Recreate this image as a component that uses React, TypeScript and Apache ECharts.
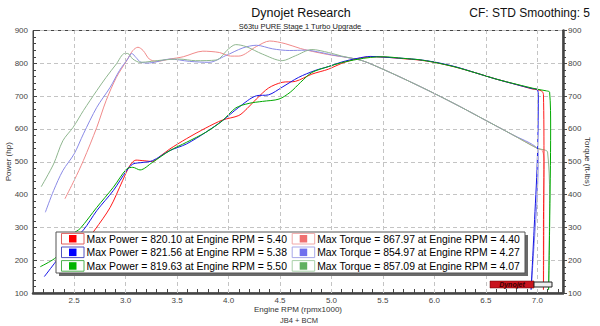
import React, { useEffect, useRef } from 'react';
import * as echarts from 'echarts';

// ---- data (rpm x1000, value) ----
const rpmGridLines = [2.5, 3.0, 3.5, 4.0, 4.5, 5.0, 5.5, 6.0, 6.5, 7.0];

const powerRun1: [number, number][] = [
  [2.41, 178], [2.5, 211], [2.59, 248], [2.7, 292], [2.85, 361], [2.97, 442], [3.04, 488], [3.1, 505],
  [3.18, 503], [3.26, 501], [3.34, 518], [3.43, 539], [3.59, 570], [3.78, 603], [3.94, 627], [4.1, 641],
  [4.18, 662], [4.27, 691], [4.39, 725], [4.52, 742], [4.65, 745], [4.81, 767], [4.97, 782], [5.1, 800],
  [5.25, 814], [5.4, 820], [5.55, 818], [5.7, 814], [5.85, 810], [6.0, 803], [6.2, 789], [6.4, 771],
  [6.6, 752], [6.8, 735], [6.95, 722], [7.04, 716], [7.06, 705], [7.065, 500], [7.06, 300], [7.06, 110],
];
const powerRun2: [number, number][] = [
  [2.21, 150], [2.32, 195], [2.45, 250], [2.59, 292], [2.72, 351], [2.88, 412], [3.01, 473], [3.07, 493],
  [3.17, 498], [3.26, 503], [3.43, 534], [3.59, 554], [3.78, 590], [3.94, 625], [4.1, 666], [4.27, 701],
  [4.39, 704], [4.52, 727], [4.68, 757], [4.84, 778], [4.97, 790], [5.1, 804], [5.25, 815], [5.38, 821],
  [5.5, 819], [5.7, 815], [5.85, 811], [6.0, 804], [6.2, 790], [6.4, 771], [6.6, 752], [6.8, 735],
  [6.95, 723], [7.0, 720], [7.01, 700], [7.0, 500], [6.97, 300], [6.94, 110],
];
const powerRun3: [number, number][] = [
  [2.17, 180], [2.31, 205], [2.42, 240], [2.49, 280], [2.56, 297], [2.72, 361], [2.88, 422], [3.01, 478],
  [3.07, 483], [3.14, 475], [3.26, 498], [3.43, 534], [3.59, 559], [3.78, 590], [3.94, 625], [4.07, 664],
  [4.2, 678], [4.33, 684], [4.49, 691], [4.6, 712], [4.7, 742], [4.81, 772], [4.97, 790], [5.1, 802],
  [5.25, 812], [5.38, 818], [5.5, 820], [5.7, 815], [5.85, 811], [6.0, 803], [6.2, 789], [6.4, 771],
  [6.6, 752], [6.8, 736], [7.0, 721], [7.09, 716], [7.12, 712], [7.13, 600], [7.12, 300], [7.11, 110],
];

const torqueRun1: [number, number][] = [
  [2.41, 387], [2.5, 443], [2.59, 504], [2.72, 605], [2.81, 686], [2.91, 757], [3.01, 808], [3.07, 839],
  [3.12, 849], [3.17, 839], [3.23, 813], [3.3, 806], [3.43, 813], [3.56, 820], [3.75, 837], [3.91, 833],
  [4.02, 822], [4.1, 822], [4.27, 851], [4.4, 868], [4.55, 860], [4.7, 845], [4.85, 834], [5.0, 825],
  [5.15, 818], [5.3, 808], [5.5, 782], [5.75, 746], [6.0, 708], [6.25, 668], [6.5, 626], [6.75, 584],
  [7.0, 541], [7.05, 534], [7.065, 500], [7.065, 300], [7.06, 110],
];
const torqueRun2: [number, number][] = [
  [2.22, 346], [2.3, 412], [2.39, 473], [2.5, 524], [2.59, 585], [2.72, 666], [2.85, 727], [2.94, 778],
  [3.02, 813], [3.06, 830], [3.1, 818], [3.15, 803], [3.23, 801], [3.43, 813], [3.62, 806], [3.81, 803],
  [3.97, 823], [4.14, 847], [4.27, 855], [4.43, 844], [4.59, 839], [4.75, 840], [4.9, 833], [5.0, 826],
  [5.15, 818], [5.3, 808], [5.5, 782], [5.75, 746], [6.0, 708], [6.25, 668], [6.5, 626], [6.75, 584],
  [7.0, 541], [7.01, 520], [7.0, 400], [6.97, 250], [6.94, 110],
];
const torqueRun3: [number, number][] = [
  [2.18, 424], [2.3, 493], [2.39, 564], [2.49, 605], [2.59, 656], [2.72, 717], [2.81, 757], [2.91, 798],
  [2.99, 830], [3.02, 830], [3.07, 813], [3.14, 803], [3.36, 810], [3.52, 813], [3.68, 808], [3.88, 810],
  [4.0, 844], [4.07, 857], [4.17, 851], [4.33, 828], [4.52, 808], [4.65, 823], [4.81, 842], [4.97, 833],
  [5.1, 822], [5.3, 808], [5.5, 782], [5.75, 746], [6.0, 708], [6.25, 668], [6.5, 626], [6.75, 584],
  [7.0, 541], [7.07, 536], [7.1, 530], [7.12, 400], [7.11, 110],
];

const maxPowerHp = ['820.10', '821.56', '819.63'];
const maxPowerRpm = ['5.40', '5.38', '5.50'];
const maxTorqueVal = ['867.97', '854.97', '857.09'];
const maxTorqueRpm = ['4.40', '4.27', '4.07'];

const powerColors = ['#ff1a1a', '#1414e6', '#00a800'];
const torqueColors = ['#f08a8a', '#8a8ae6', '#8fb68f'];
const powerSwatch = ['#ff0000', '#0000ff', '#00b400'];
const powerSwatchBorder = ['#e06060', '#5050c0', '#50b050'];
const torqueSwatch = ['#f07070', '#7070ee', '#60b060'];
const torqueSwatchBorder = ['#f0a8a8', '#a8a8e8', '#a8d0a8'];

const FONT = '"Liberation Sans", Arial, sans-serif';

export default function App() {
  const ref = useRef<HTMLDivElement>(null);
  useEffect(() => {
    if (!ref.current) return;
    const chart = echarts.init(ref.current, undefined, { renderer: 'svg' });

    const powerData = [powerRun1, powerRun2, powerRun3];
    const torqueData = [torqueRun1, torqueRun2, torqueRun3];

    const series: any[] = [
      {
        type: 'line',
        data: [],
        z: 1,
        silent: true,
        markLine: {
          silent: true,
          symbol: ['none', 'none'],
          label: { show: false },
          lineStyle: { type: [4, 3], color: '#c4c4c4', width: 1 },
          emphasis: { disabled: true },
          data: rpmGridLines.map((v) => ({ xAxis: v })),
        },
      },
    ];
    torqueData.forEach((d, i) => {
      series.push({
        type: 'line',
        yAxisIndex: 1,
        data: d,
        showSymbol: false,
        smooth: 0.3,
        lineStyle: { color: torqueColors[i], width: 1 },
        z: 3,
      });
    });
    powerData.forEach((d, i) => {
      series.push({
        type: 'line',
        yAxisIndex: 0,
        data: d,
        showSymbol: false,
        smooth: 0.3,
        lineStyle: { color: powerColors[i], width: 1 },
        z: 4,
      });
    });

    const graphic: any[] = [];
    const txt = (x: number, y: number, text: string, size: number, align = 'center', fill = '#111') => ({
      type: 'text',
      z: 100,
      style: { x, y, text, font: `${size}px ${FONT}`, fill, textAlign: align, textVerticalAlign: 'middle' },
    });
    graphic.push(txt(301, 13, 'Dynojet Research', 12.5));
    graphic.push(txt(300, 26.5, 'S63tu PURE Stage 1 Turbo Upgrade', 7.5, 'center', '#222'));
    graphic.push(txt(590, 13, 'CF: STD Smoothing: 5', 12, 'right'));
    graphic.push(txt(299, 320.5, 'JB4 + BCM', 7.5, 'center', '#333'));

    // legend box
    graphic.push({ type: 'rect', z: 99, shape: { x: 59, y: 235, width: 469, height: 41 }, style: { fill: '#6a6a6a' } });
    graphic.push({ type: 'rect', z: 100, shape: { x: 56, y: 232, width: 469, height: 41 }, style: { fill: '#fff', stroke: '#555', lineWidth: 1 } });
    for (let i = 0; i < 3; i++) {
      const cy = 238.7 + i * 13.6;
      const cols = [
        { x: 61.5, fill: powerSwatch[i], border: powerSwatchBorder[i], label: `Max Power = ${maxPowerHp[i]} at Engine RPM = ${maxPowerRpm[i]}` },
        { x: 292.2, fill: torqueSwatch[i], border: torqueSwatchBorder[i], label: `Max Torque = ${maxTorqueVal[i]} at Engine RPM = ${maxTorqueRpm[i]}` },
      ];
      cols.forEach((c) => {
        graphic.push({ type: 'rect', z: 101, shape: { x: c.x, y: cy - 5.3, width: 22.5, height: 10.6 }, style: { fill: '#fff', stroke: c.border, lineWidth: 1 } });
        graphic.push({ type: 'rect', z: 102, shape: { x: c.x + 7.5, y: cy - 3.7, width: 7.5, height: 7.5 }, style: { fill: c.fill } });
        graphic.push({
          type: 'text', z: 102,
          style: { x: c.x + 25, y: cy + 0.5, text: c.label, font: `10.4px ${FONT}`, fill: '#000', textAlign: 'left', textVerticalAlign: 'middle' },
        });
      });
    }
    // Dynojet logo
    graphic.push({ type: 'rect', z: 100, shape: { x: 490, y: 281, width: 44, height: 7 }, style: { fill: '#c8141e', stroke: '#600', lineWidth: 0.5 } });
    graphic.push({ type: 'text', z: 101, style: { x: 512, y: 284.8, text: 'Dynojet', font: `italic bold 7px ${FONT}`, fill: '#3a0000', textAlign: 'center', textVerticalAlign: 'middle' } });
    graphic.push({ type: 'rect', z: 100, shape: { x: 534, y: 282, width: 18, height: 5 }, style: { fill: '#eee', stroke: '#222', lineWidth: 1 } });

    const axisLabelStyle = { color: '#444', fontSize: 8, fontFamily: FONT };

    chart.setOption({
      animation: false,
      backgroundColor: '#fff',
      grid: {
        left: 33, right: 37, top: 30.5, bottom: 33,
        show: true, borderColor: '#444', borderWidth: 1,
        containLabel: false, outerBoundsMode: 'none',
      },
      xAxis: {
        type: 'value',
        min: 2.1,
        max: 7.25,
        interval: 0.1,
        name: 'Engine RPM (rpmx1000)',
        nameLocation: 'middle',
        nameGap: 12,
        nameMoveOverlap: false,
        nameTextStyle: { color: '#333', fontSize: 8, fontFamily: FONT },
        axisLine: { show: true, lineStyle: { color: '#444', width: 2.5 } },
        axisTick: { show: true, inside: true, length: 4, lineStyle: { color: '#444' } },
        axisLabel: {
          ...axisLabelStyle,
          margin: 3,
          formatter: (v: number) => {
            const r = Math.round(v * 10);
            return r % 5 === 0 ? (r / 10).toFixed(1) : '';
          },
        },
        splitLine: { show: false },
      },
      yAxis: [
        {
          type: 'value',
          min: 100,
          max: 900,
          interval: 100,
          name: 'Power (hp)',
          nameLocation: 'middle',
          nameGap: 21,
          nameMoveOverlap: false,
          nameTextStyle: { color: '#333', fontSize: 8, fontFamily: FONT },
          axisLine: { show: true, lineStyle: { color: '#444', width: 1 } },
          axisTick: { show: true, inside: true, length: 4, lineStyle: { color: '#444' } },
          minorTick: { show: true, splitNumber: 5, length: 3, lineStyle: { color: '#444' } },
          axisLabel: { ...axisLabelStyle, margin: 5 },
          splitLine: { show: true, lineStyle: { type: [4, 3], color: '#c4c4c4', width: 1 } },
        },
        {
          type: 'value',
          position: 'right',
          min: 100,
          max: 900,
          interval: 100,
          name: 'Torque (ft-lbs)',
          nameLocation: 'middle',
          nameRotate: -90,
          nameGap: 20,
          nameMoveOverlap: false,
          nameTextStyle: { color: '#333', fontSize: 8, fontFamily: FONT },
          axisLine: { show: true, lineStyle: { color: '#444', width: 2.5 } },
          axisTick: { show: true, inside: false, length: 4, lineStyle: { color: '#444' } },
          minorTick: { show: true, splitNumber: 5, length: 3, lineStyle: { color: '#444' } },
          axisLabel: { ...axisLabelStyle, margin: 5 },
          splitLine: { show: false },
        },
      ],
      series,
      graphic,
    });
    return () => chart.dispose();
  }, []);
  return <div ref={ref} style={{ position: 'fixed', left: 0, top: 0, width: 600, height: 326 }} />;
}
